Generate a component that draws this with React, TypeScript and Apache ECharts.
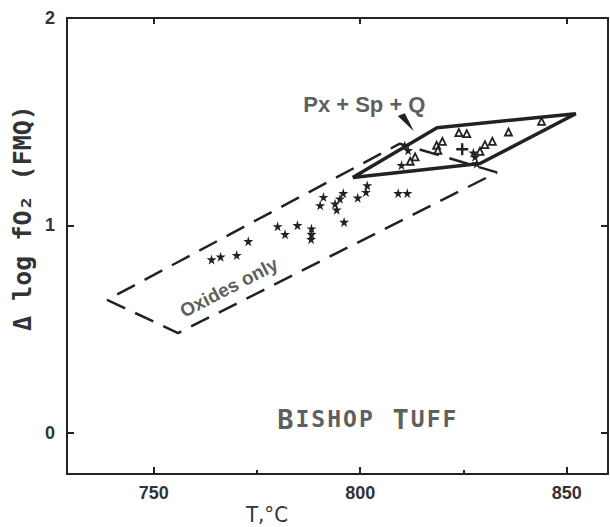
import React, { useEffect, useRef } from "react";
import * as echarts from "echarts";

// Axis ranges and ticks
const X_MIN = 729;
const X_MAX = 860;
const Y_MIN = -0.2;
const Y_MAX = 2;
const xMajorTicks = [750, 800, 850];
const xMinorTicks = [775, 825];
const yMajorTicks = [0, 1, 2];

// "Oxides only" samples (stars)
const starX = [764.0, 766.2, 770.1, 772.9, 780.0, 781.8, 784.8, 788.2, 788.2, 788.1, 791.1, 790.3, 793.9, 794.3, 795.1, 795.9, 796.1, 799.4, 801.4, 801.7, 809.2, 811.4, 811.6, 810.0, 810.8, 827.8, 828.2, 827.4];
const starY = [0.835, 0.848, 0.856, 0.923, 0.995, 0.957, 1.0, 0.984, 0.957, 0.933, 1.136, 1.096, 1.104, 1.075, 1.128, 1.155, 1.016, 1.133, 1.16, 1.192, 1.155, 1.155, 1.362, 1.29, 1.385, 1.33, 1.298, 1.35];

// "Px + Sp + Q" samples (triangles)
const triX = [823.9, 825.8, 835.9, 843.9, 830.2, 832.0, 819.9, 818.5, 818.8, 813.3, 812.1, 829.0];
const triY = [1.447, 1.442, 1.45, 1.501, 1.389, 1.405, 1.405, 1.386, 1.362, 1.33, 1.309, 1.357];

// cross marker
const crossX = [824.7];
const crossY = [1.367];

// Field outlines (vertices)
const oxidesX = [738.7, 755.9, 833.1, 809.6, 738.7];
const oxidesY = [0.64, 0.48, 1.255, 1.394, 0.64];
const pxspqX = [798.2, 818.6, 852.2, 829.0, 798.2];
const pxspqY = [1.231, 1.471, 1.538, 1.298, 1.231];

// Arrow wedge
const arrowX = [809.1, 810.8, 813.0];
const arrowY = [1.527, 1.541, 1.454];

// Annotations
const labelTexts = ["Px + Sp + Q", "Oxides only", "BISHOP TUFF"];
const labelX = [801.0, 768.2, 801.6];
const labelY = [1.585, 0.7, 0.065];

const INK = "#222";
const TEXT = "#333";
const STAR =
  "path://M50,0 L61,35 L98,35 L68,57 L79,91 L50,70 L21,91 L32,57 L2,35 L39,35 Z";
const PLUS = "path://M4,0 H6 V4 H10 V6 H6 V10 H4 V6 H0 V4 H4 Z";

const zip = (xs: number[], ys: number[]) => xs.map((x, i) => [x, ys[i]]);

// small-caps builder: first letter of each word large, rest small, each letter its own token
const smallCaps = (t: string) =>
  t
    .split(" ")
    .map((w) => w.split("").map((ch, i) => `{${i === 0 ? "c" : "s"}|${ch}}`).join(""))
    .join("{g| }");

export default function App() {
  const ref = useRef<HTMLDivElement>(null);
  useEffect(() => {
    document.body.style.margin = "0";
    const chart = echarts.init(ref.current!, null, { renderer: "svg" });
    const tickFont = {
      fontSize: 18,
      fontWeight: "bold" as const,
      fontFamily: "'Liberation Sans', Arial, sans-serif",
      color: TEXT,
    };
    const monoBold = {
      fontWeight: "bold" as const,
      fontFamily: "'DejaVu Sans Mono', monospace",
      color: TEXT,
    };
    const option: any = {
      animation: false,
      backgroundColor: "#fff",
      grid: { left: 67, right: 2, top: 18, bottom: 53, containLabel: false, outerBoundsMode: "none" },
      xAxis: [
        {
          type: "value",
          min: X_MIN,
          max: X_MAX,
          position: "bottom",
          axisLine: { show: true, onZero: false, lineStyle: { color: INK, width: 2 } },
          axisTick: { show: true, inside: true, length: 7, customValues: xMajorTicks, lineStyle: { color: INK, width: 2 } },
          axisLabel: { customValues: xMajorTicks, margin: 10, ...tickFont },
          splitLine: { show: false },
        },
        {
          type: "value",
          min: X_MIN,
          max: X_MAX,
          position: "bottom",
          axisLine: { show: false, onZero: false },
          axisTick: { show: true, inside: true, length: 4, customValues: xMinorTicks, lineStyle: { color: INK, width: 2 } },
          axisLabel: { show: false },
          splitLine: { show: false },
        },
        {
          type: "value",
          min: X_MIN,
          max: X_MAX,
          position: "top",
          axisLine: { show: true, onZero: false, lineStyle: { color: INK, width: 2 } },
          axisTick: { show: true, inside: true, length: 6, customValues: xMajorTicks, lineStyle: { color: INK, width: 2 } },
          axisLabel: { show: false },
          splitLine: { show: false },
        },
      ],
      yAxis: [
        {
          type: "value",
          min: Y_MIN,
          max: Y_MAX,
          position: "left",
          axisLine: { show: true, onZero: false, lineStyle: { color: INK, width: 2 } },
          axisTick: { show: true, inside: true, length: 7, customValues: yMajorTicks, lineStyle: { color: INK, width: 2 } },
          axisLabel: { customValues: yMajorTicks, margin: 12, ...tickFont },
          splitLine: { show: false },
        },
        {
          type: "value",
          min: Y_MIN,
          max: Y_MAX,
          position: "right",
          axisLine: { show: true, onZero: false, lineStyle: { color: INK, width: 2 } },
          axisTick: { show: true, inside: true, length: 7, customValues: yMajorTicks, lineStyle: { color: INK, width: 2 } },
          axisLabel: { show: false },
          splitLine: { show: false },
        },
      ],
      series: [
        {
          type: "line",
          data: zip(oxidesX, oxidesY),
          symbol: "none",
          lineStyle: { color: INK, width: 2.5, type: [20, 11] },
          z: 2,
        },
        {
          type: "line",
          data: zip(pxspqX, pxspqY),
          symbol: "none",
          lineStyle: { color: INK, width: 3.5 },
          z: 3,
        },
        {
          type: "custom",
          data: zip(arrowX, arrowY),
          renderItem: (params: any, api: any) => {
            if (params.dataIndex !== 0) return null;
            const pts = arrowX.map((x, i) => api.coord([x, arrowY[i]]));
            return { type: "polygon", shape: { points: pts }, style: { fill: INK } };
          },
          z: 4,
        },
        {
          type: "scatter",
          data: zip(starX, starY),
          symbol: STAR,
          symbolSize: 10,
          itemStyle: { color: "#222", opacity: 1 },
          z: 5,
        },
        {
          type: "scatter",
          data: zip(triX, triY),
          symbol: "triangle",
          symbolSize: 7,
          itemStyle: { color: "#fff", borderColor: "#222", borderWidth: 1.8, opacity: 1 },
          z: 5,
        },
        {
          type: "scatter",
          data: zip(crossX, crossY),
          symbol: PLUS,
          symbolSize: 12,
          itemStyle: { color: "#222", opacity: 1 },
          z: 5,
        },
        {
          type: "scatter",
          symbolSize: 0,
          silent: true,
          z: 6,
          data: [
            {
              value: [labelX[0], labelY[0]],
              label: {
                show: true,
                position: "inside",
                formatter: labelTexts[0],
                fontSize: 22,
                fontWeight: "bold",
                fontFamily: "'Liberation Sans', Arial, sans-serif",
                color: TEXT,
              },
            },
            {
              value: [labelX[1], labelY[1]],
              label: {
                show: true,
                position: "inside",
                rotate: 27.5,
                formatter: labelTexts[1],
                fontSize: 19,
                fontWeight: "bold",
                fontFamily: "'Liberation Sans', Arial, sans-serif",
                color: TEXT,
              },
            },
            {
              value: [labelX[2], labelY[2]],
              label: {
                show: true,
                position: "inside",
                formatter: () => smallCaps(labelTexts[2]),
                rich: {
                  c: { fontSize: 27, padding: [0, 1], ...monoBold },
                  s: { fontSize: 23, padding: [0, 1], ...monoBold },
                  g: { fontSize: 23, padding: [0, 2], ...monoBold },
                },
              },
            },
          ],
        },
      ],
      graphic: [
        {
          type: "text",
          x: 22,
          y: 218,
          rotation: Math.PI / 2,
          style: {
            text: "Δ log fO₂ (FMQ)",
            fontSize: 25,
            fontWeight: "bold",
            fontFamily: "'DejaVu Sans Mono', monospace",
            fill: TEXT,
            align: "center",
            verticalAlign: "middle",
          },
        },
        {
          type: "text",
          x: 267,
          y: 514,
          style: {
            text: "T,°C",
            fontSize: 22,
            fontFamily: "'Liberation Sans Narrow', 'DejaVu Sans Condensed', sans-serif",
            fill: TEXT,
            align: "center",
            verticalAlign: "middle",
          },
        },
      ],
    };
    chart.setOption(option);
    return () => chart.dispose();
  }, []);
  return <div ref={ref} style={{ width: 610, height: 527 }} />;
}
